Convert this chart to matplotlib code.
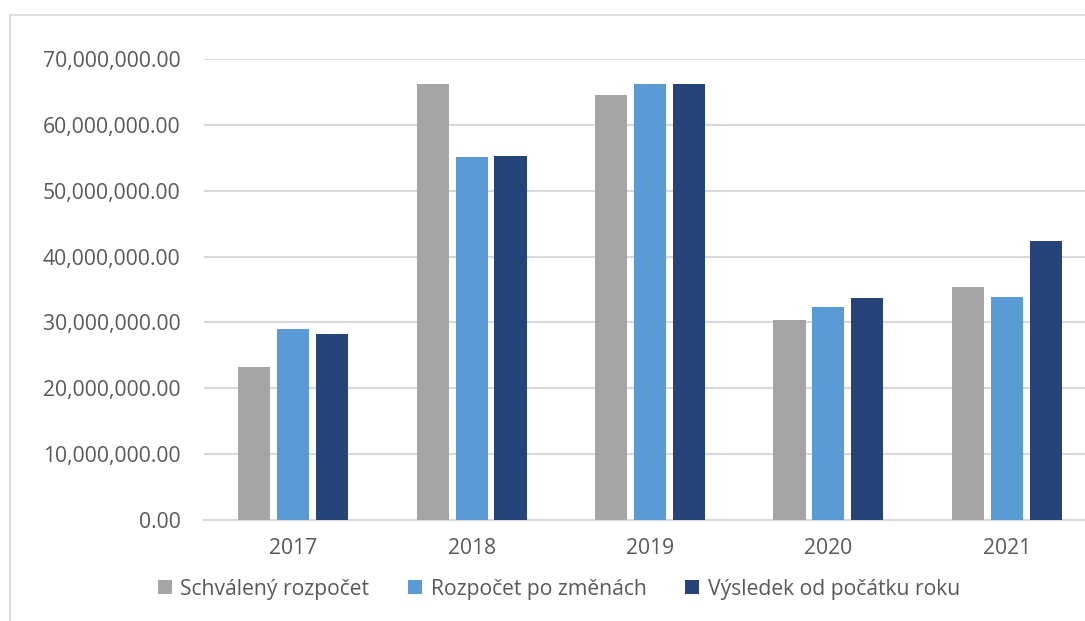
import matplotlib.pyplot as plt
from matplotlib.patches import Rectangle
from matplotlib.ticker import FuncFormatter
import numpy as np

plt.rcParams['font.family'] = ['Open Sans', 'DejaVu Sans']

years = ['2017', '2018', '2019', '2020', '2021']
schvaleny = [23.2e6, 66.2e6, 64.5e6, 30.4e6, 35.4e6]
po_zmenach = [29.0e6, 55.1e6, 66.2e6, 32.3e6, 33.9e6]
vysledek = [28.2e6, 55.3e6, 66.2e6, 33.7e6, 42.4e6]

series = [
    ('Schválený rozpočet', schvaleny, '#A5A5A5'),
    ('Rozpočet po změnách', po_zmenach, '#5B9BD5'),
    ('Výsledek od počátku roku', vysledek, '#264478'),
]

text_col = '#595959'
grid_col = '#D9D9D9'
fs = 15.2

fig = plt.figure(figsize=(10.85, 6.21), dpi=100)
fig.patches.append(Rectangle((10 / 1085, -0.1), 1.2, 1 - 15 / 621 + 0.1,
                             transform=fig.transFigure, fill=False,
                             edgecolor=grid_col, linewidth=1.2))
ax = fig.add_axes([204 / 1085, 1 - 520 / 621, 892 / 1085, (520 - 59) / 621])

x = np.arange(len(years))
w = 0.18
step = 0.218
for i, (name, vals, col) in enumerate(series):
    ax.bar(x + (i - 1) * step, vals, width=w, color=col, label=name, zorder=3)

ax.set_xlim(-0.5, len(years) - 0.5)
ax.set_ylim(0, 70e6)
ax.set_yticks(np.arange(0, 70e6 + 1, 10e6))
ax.yaxis.set_major_formatter(FuncFormatter(lambda v, p: '{:,.2f}'.format(v)))
ax.set_xticks(x)
ax.set_xticklabels(years)
ax.grid(axis='y', color=grid_col, linewidth=1.5, zorder=0)
for s in ['top', 'right', 'left']:
    ax.spines[s].set_visible(False)
ax.spines['bottom'].set_color(grid_col)
ax.spines['bottom'].set_linewidth(1.5)
ax.tick_params(axis='both', length=0, labelsize=fs, labelcolor=text_col)
ax.tick_params(axis='y', pad=17)
ax.tick_params(axis='x', pad=13)

leg = fig.legend(loc='center', bbox_to_anchor=(559 / 1085, 1 - 589 / 621), ncol=3,
                 frameon=False, fontsize=fs, handlelength=0.65, handleheight=0.65,
                 handletextpad=0.4, columnspacing=1.85)
for t in leg.get_texts():
    t.set_color(text_col)

fig.savefig('out.png', dpi=100)
